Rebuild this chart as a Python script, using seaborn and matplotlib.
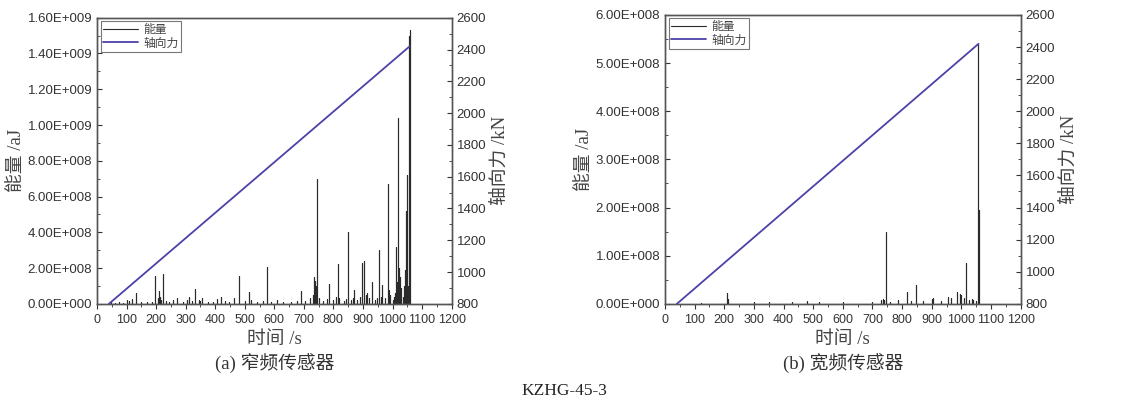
import numpy as np
import pandas as pd
import matplotlib
matplotlib.use("Agg")
import matplotlib.pyplot as plt
import seaborn as sns
from matplotlib.ticker import MultipleLocator, FuncFormatter

# ── data ─────────────────────────────────────────────────────────────────────
force_time = [40, 1058]
force_kn   = [800, 2420]

# narrow band sensor: spike times (s) and energy (aJ)
nb_time = [48, 62, 75, 88, 100, 108, 118, 131, 150, 170, 185, 195, 205, 208, 210,
           213, 216, 222, 232, 245, 258, 270, 290, 305, 310, 320, 333, 345, 350,
           355, 375, 392, 405, 420, 432, 447, 465, 480, 500, 515, 522, 540, 560,
           575, 590, 610, 630, 655, 675, 690, 705, 722, 730, 735, 738, 742, 745,
           750, 765, 778, 785, 800, 810, 815, 820, 835, 842, 848, 858, 865, 870,
           880, 890, 897, 905, 910, 915, 922, 930, 940, 948, 955, 960, 965, 975,
           985, 988, 992, 1000, 1005, 1010, 1012, 1015, 1017, 1020, 1022, 1025,
           1028, 1030, 1035, 1040, 1043, 1045, 1048, 1050, 1053, 1055, 1057, 1060]
nb_val  = [0.8e7, 0.5e7, 1.0e7, 0.6e7, 2.0e7, 1.5e7, 2.5e7, 6.0e7, 0.8e7, 1.0e7,
           0.8e7, 1.58e8, 3.0e7, 7.0e7, 5.0e7, 4.0e7, 2.0e7, 1.65e8, 1.5e7, 1.0e7,
           2.0e7, 3.0e7, 0.8e7, 2.0e7, 4.0e7, 1.5e7, 8.5e7, 2.0e7, 1.5e7, 3.0e7,
           0.8e7, 1.0e7, 2.5e7, 4.0e7, 1.5e7, 1.0e7, 3.0e7, 1.58e8, 1.5e7, 6.5e7,
           2.0e7, 1.0e7, 1.5e7, 2.05e8, 1.0e7, 2.0e7, 0.8e7, 1.0e7, 1.5e7, 7.0e7,
           1.5e7, 3.0e7, 5.0e7, 1.5e8, 1.3e8, 1.0e8, 7.0e8, 3.0e7, 1.5e7, 2.5e7,
           1.1e8, 2.0e7, 4.0e7, 2.25e8, 3.0e7, 1.5e7, 2.5e7, 4.0e8, 2.0e7, 3.0e7,
           8.0e7, 2.0e7, 4.0e7, 2.3e8, 2.4e8, 5.0e7, 6.0e7, 3.0e7, 1.2e8, 2.0e7,
           3.0e7, 3.0e8, 4.0e7, 1.05e8, 3.0e7, 6.7e8, 8.0e7, 5.0e7, 2.0e7, 4.0e7,
           6.0e7, 3.2e8, 1.2e8, 1.04e9, 8.6e8, 2.0e8, 1.5e8, 9.0e7, 7.0e7, 4.0e7,
           1.0e8, 1.9e8, 5.2e8, 7.2e8, 2.0e8, 1.0e8, 1.8e8, 1.5e9, 1.53e9]

# wide band sensor: spike times (s) and energy (aJ)
wb_time = [120, 210, 212, 300, 350, 430, 480, 520, 600, 700, 730, 735, 740, 745,
           760, 785, 815, 830, 848, 870, 900, 905, 930, 955, 965, 985, 995, 1000,
           1010, 1017, 1025, 1035, 1040, 1050, 1057, 1060]
wb_val  = [0.2e7, 2.2e7, 1.0e7, 0.3e7, 0.4e7, 0.3e7, 0.6e7, 0.4e7, 0.3e7, 0.4e7,
           0.8e7, 1.1e7, 0.9e7, 1.5e8, 0.4e7, 0.8e7, 2.5e7, 0.5e7, 4.0e7, 0.5e7,
           1.0e7, 1.2e7, 0.6e7, 1.5e7, 1.3e7, 2.5e7, 2.0e7, 1.8e7, 1.2e7, 8.5e7,
           0.8e7, 1.0e7, 0.8e7, 0.6e7, 5.4e8, 1.95e8]

NRG_COLOR   = "#2b2b2b"
FORCE_COLOR = "#4b42a8"
TICK_FS  = 9.5
XTICK_FS = 9
LABEL_FS = 13.5

sns.set_style("ticks")
plt.rcParams["font.family"] = ["Liberation Sans Narrow", "Liberation Sans", "Noto Sans CJK SC"]
SERIF = ["Liberation Serif", "Noto Sans CJK SC"]


def sticks(t, v):
    # turn spike list into a stick series (0 -> v -> 0 at each time)
    rows = []
    for ti, vi in zip(t, v):
        rows += [(ti, 0.0), (ti, vi), (ti, 0.0)]
    return pd.DataFrame(rows, columns=["time", "energy"])


def efmt(v, pos):
    if v == 0:
        return "0.00E+000"
    e = int(np.floor(np.log10(abs(v)) + 1e-9))
    return f"{v / 10**e:.2f}E+{e:03d}"


def panel(ax, t, v, ymax, ystep, caption):
    df = sticks(t, v)
    sns.lineplot(data=df, x="time", y="energy", ax=ax, estimator=None, sort=False,
                 color=NRG_COLOR, lw=0.8, label="能量", legend=False)
    ax.set_xlim(0, 1200)
    ax.set_ylim(0, ymax)
    ax.xaxis.set_major_locator(MultipleLocator(100))
    ax.xaxis.set_minor_locator(MultipleLocator(50))
    ax.yaxis.set_major_locator(MultipleLocator(ystep))
    ax.yaxis.set_minor_locator(MultipleLocator(ystep / 2))
    ax.yaxis.set_major_formatter(FuncFormatter(efmt))
    ax.tick_params(axis="y", which="both", direction="in", labelsize=TICK_FS, colors="#333333")
    ax.tick_params(axis="x", which="both", direction="out", labelsize=XTICK_FS, colors="#333333")
    ax.tick_params(which="major", length=3.5)
    ax.tick_params(which="minor", length=2)
    ax.set_xlabel("时间 /s", family=SERIF, fontsize=LABEL_FS, color="#444444", labelpad=4)
    ax.set_ylabel("能量 /aJ", family=SERIF, fontsize=LABEL_FS, color="#444444", labelpad=2)

    ax2 = ax.twinx()
    fdf = pd.DataFrame({"time": force_time, "force": force_kn})
    sns.lineplot(data=fdf, x="time", y="force", ax=ax2, color=FORCE_COLOR, lw=1.3,
                 label="轴向力", legend=False)
    ax2.set_ylim(800, 2600)
    ax2.yaxis.set_major_locator(MultipleLocator(200))
    ax2.yaxis.set_minor_locator(MultipleLocator(100))
    ax2.tick_params(axis="y", which="both", direction="in", labelsize=TICK_FS, colors="#333333")
    ax2.tick_params(which="major", length=3.5)
    ax2.tick_params(which="minor", length=2)
    ax2.set_ylabel("轴向力 /kN", family=SERIF, fontsize=LABEL_FS, color="#444444", labelpad=4)
    for a in (ax, ax2):
        for s in a.spines.values():
            s.set_visible(True)
            s.set_color("#555555")
            s.set_linewidth(1.0)

    h1, l1 = ax.get_legend_handles_labels()
    h2, l2 = ax2.get_legend_handles_labels()
    leg = ax2.legend(h1 + h2, l1 + l2, loc="upper left", fontsize=8.5, frameon=True,
                     fancybox=False, edgecolor="#555555", handlelength=3.0,
                     handletextpad=0.4, borderaxespad=0.3, borderpad=0.2,
                     labelspacing=0.15)
    leg.get_frame().set_linewidth(0.8)
    for txt in leg.get_texts():
        txt.set_color("#444444")

    ax.text(0.5, -0.175, caption, transform=ax.transAxes, ha="center", va="top",
            family=SERIF, fontsize=LABEL_FS, color="#333333")


fig = plt.figure(figsize=(11.29, 4.03), dpi=100)
ax_a = fig.add_axes([0.086, 0.246, 0.314, 0.710])
ax_b = fig.add_axes([0.589, 0.246, 0.315, 0.717])

panel(ax_a, nb_time, nb_val, 1.6e9, 2e8, "(a) 窄频传感器")
panel(ax_b, wb_time, wb_val, 6e8, 1e8, "(b) 宽频传感器")

fig.text(0.5, 0.01, "KZHG-45-3", ha="center", va="bottom", family=SERIF,
         fontsize=12.5, color="#222222")

fig.savefig("out.png", dpi=100)
